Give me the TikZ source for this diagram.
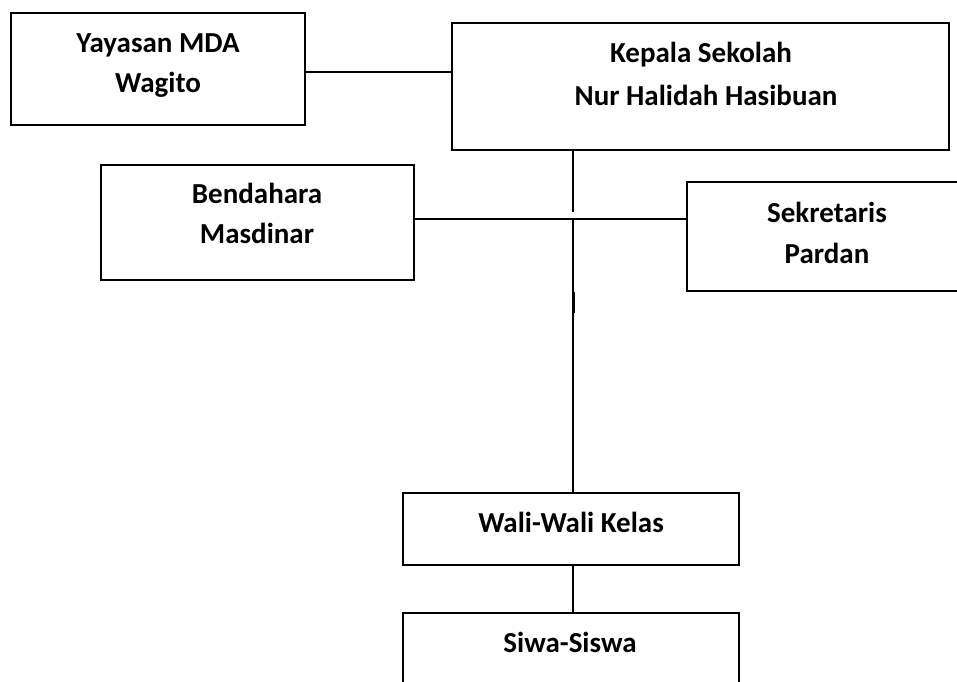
\documentclass[tikz,border=0pt]{standalone}
\usepackage{fontspec}
\setmainfont{Carlito}
\begin{document}
\begin{tikzpicture}[x=0.5pt,y=-0.5pt,
  orgbox/.style={draw=black, line width=1pt, inner sep=0pt, outer sep=0pt, fill=white},
  lbl/.style={anchor=base, inner sep=0pt, font=\fontsize{14.5}{20}\selectfont\bfseries},
  conn/.style={draw=black, line width=1pt}]
\useasboundingbox (0,0) rectangle (957,681);
\clip (0,0) rectangle (957,681);
\fill[white] (0,0) rectangle (957,681);
% boxes
\node[orgbox, minimum width=147pt, minimum height=56pt] (yay) at (158,69) {};
\node[orgbox, minimum width=248.5pt, minimum height=63.5pt] (kep) at (700.5,86.5) {};
\node[orgbox, minimum width=156.5pt, minimum height=57.5pt] (ben) at (257.5,222.5) {};
\node[orgbox, minimum width=140pt, minimum height=54.5pt] (sek) at (827,236.5) {};
\node[orgbox, minimum width=168pt, minimum height=36pt] (wali) at (571,529) {};
\node[orgbox, minimum width=168pt, minimum height=43.5pt] (sis) at (571,656.5) {};
% texts
\node[lbl] (yayA) at (158,52) {Yayasan MDA};
\node[lbl] (yayB) at (158,92) {Wagito};
\node[lbl] (kepA) at (701,62) {Kepala Sekolah};
\node[lbl] (kepB) at (706,105) {Nur Halidah Hasibuan};
\node[lbl] (benA) at (257,203) {Bendahara};
\node[lbl] (benB) at (257,243) {Masdinar};
\node[lbl] (sekA) at (827,222) {Sekretaris};
\node[lbl] (sekB) at (827,263) {Pardan};
\node[lbl] (waliA) at (571,532) {Wali-Wali Kelas};
\node[lbl] (sisA) at (570,652) {Siwa-Siswa};
% connector helpers
\coordinate (yk) at (380,72);
\coordinate (j) at (573,219);
\coordinate (gap) at (573,212);
\coordinate (thA) at (573,292);
\coordinate (thB) at (573,313);
% connectors
\draw[conn] (yk -| yay.east) -- (yk -| kep.west);
\draw[conn] (gap |- kep.south) -- (gap);
\draw[conn] (j -| ben.east) -- (j -| sek.west);
\draw[conn] (j) -- (j |- wali.north);
\draw[conn, line width=1.5pt] (thA) -- (thB);
\draw[conn] (j |- wali.south) -- (j |- sis.north);
\end{tikzpicture}
\end{document}
